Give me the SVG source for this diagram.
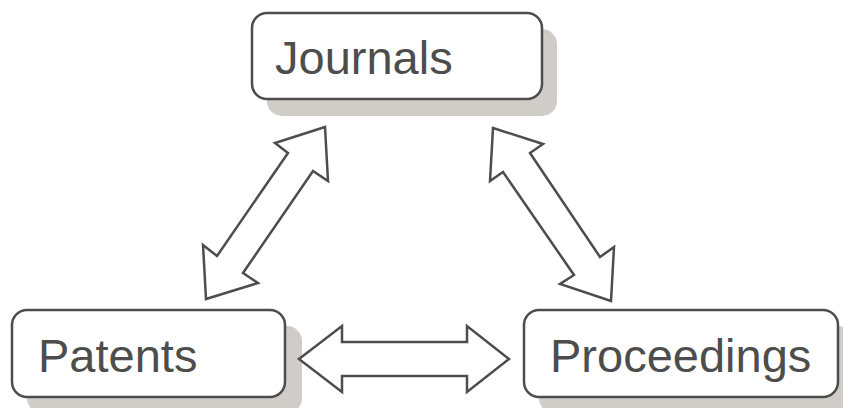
<svg xmlns="http://www.w3.org/2000/svg" width="843" height="408" viewBox="0 0 843 408">
<style>
.sh{fill:#d0ccc8;stroke:none}
.box{fill:#fff;stroke:#4d4d4d;stroke-width:2.5}
.lbl{font-family:"Liberation Sans",Arial,sans-serif;font-size:47px;fill:#4d4d4d}
.arr{fill:#fff;stroke:#4d4d4d;stroke-width:2.5;stroke-linejoin:miter}
</style>
<rect width="843" height="408" fill="#fff"/>
<g id="journals">
<rect class="sh" x="267" y="29" width="290" height="87" rx="15"/>
<rect class="box" x="252" y="13" width="290" height="86" rx="15"/>
<text class="lbl" x="275" y="74">Journals</text>
</g>
<g id="patents">
<rect class="sh" x="27" y="326" width="275" height="87" rx="15"/>
<rect class="box" x="12" y="310" width="273" height="87" rx="15"/>
<text class="lbl" x="38" y="372">Patents</text>
</g>
<g id="proceedings">
<rect class="sh" x="539" y="326" width="314" height="87" rx="15"/>
<rect class="box" x="524" y="310" width="314" height="87" rx="15"/>
<text class="lbl" x="550" y="372">Proceedings</text>
</g>
<g id="connectors">
<polygon class="arr" points="325,127 328,181 313,171 243,273 258,283 206,299 203,245 217,256 288,153 275,143"/>
<polygon class="arr" points="493,128 543,144 530,153 600,257 614,247 611,301 560,284 574,275 503,172 490,181"/>
<polygon class="arr" points="299,359 342,326 342,342 467,342 467,326 509,359 467,392 467,376 342,376 342,392"/>
</g>
</svg>
